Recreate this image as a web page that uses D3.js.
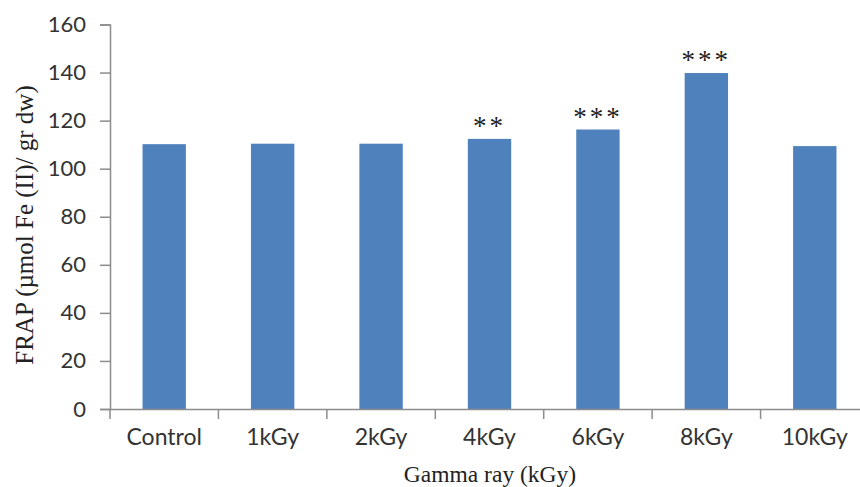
<!DOCTYPE html>
<html>
<head>
<meta charset="utf-8">
<script src="https://cdn.jsdelivr.net/npm/d3@7"></script>
<style>
  html, body { margin: 0; padding: 0; background: #fff; }
  svg { display: block; }
</style>
</head>
<body>
<svg id="chart" width="860" height="487"></svg>
<script>
// FRAP antioxidant capacity by gamma irradiation dose
const categories = ["Control", "1kGy", "2kGy", "4kGy", "6kGy", "8kGy", "10kGy"];
const frapValues = [110.2, 110.4, 110.4, 112.4, 116.3, 139.8, 109.4];
const significance = ["", "", "", "**", "***", "***", ""];
const yTicks = [0, 20, 40, 60, 80, 100, 120, 140, 160];

const svg = d3.select("#chart");
const W = 860;
const x0 = 110, x1 = W + 9;
const yBottom = 409, yTop = 24.5;

const x = d3.scaleBand().domain(categories).range([x0, x1]).paddingInner(0.6).paddingOuter(0.3);
const xb = d3.scaleBand().domain(categories).range([x0, x1]);
const y = d3.scaleLinear().domain([0, 160]).range([yBottom, yTop]);

const axisColor = "#8c8c8c";
const tickFont = "Lato, 'Open Sans', sans-serif";
const serif = "'Liberation Serif', 'DejaVu Serif', serif";

// bars
svg.append("g").selectAll("rect").data(categories).join("rect")
  .attr("x", d => x(d))
  .attr("width", x.bandwidth())
  .attr("y", (d, i) => y(frapValues[i]))
  .attr("height", (d, i) => y(0) - y(frapValues[i]))
  .attr("fill", "#4f81bd");

// significance marks
svg.append("g").selectAll("text").data(categories).join("text")
  .attr("x", d => x(d) + x.bandwidth() / 2)
  .attr("y", (d, i) => y(frapValues[i]) - 4)
  .attr("text-anchor", "middle")
  .attr("font-family", serif)
  .attr("font-size", 27)
  .attr("letter-spacing", 3)
  .attr("fill", "#222")
  .text((d, i) => significance[i]);

// y axis
const yAxis = svg.append("g").attr("transform", `translate(${x0},0)`)
  .call(d3.axisLeft(y).tickValues(yTicks).tickSize(10).tickPadding(14));
yAxis.select(".domain").attr("stroke", axisColor).attr("stroke-width", 1.5);
yAxis.selectAll(".tick line").attr("stroke", axisColor).attr("stroke-width", 1.5);
yAxis.selectAll(".tick text").attr("font-family", tickFont).attr("font-size", 22).attr("fill", "#333");

// x axis
const xAxis = svg.append("g").attr("transform", `translate(0,${yBottom})`)
  .call(d3.axisBottom(xb).tickSize(0).tickPadding(20));
xAxis.select(".domain").attr("stroke", axisColor).attr("stroke-width", 1.5);
xAxis.selectAll(".tick text").attr("font-family", tickFont).attr("font-size", 23).attr("fill", "#333");
// boundary ticks between categories
xAxis.append("g").selectAll("line").data(categories).join("line")
  .attr("x1", d => xb(d)).attr("x2", d => xb(d))
  .attr("y1", 0).attr("y2", 10)
  .attr("stroke", axisColor).attr("stroke-width", 1.5);

// axis titles
svg.append("text")
  .attr("x", 490).attr("y", 482)
  .attr("text-anchor", "middle")
  .attr("font-family", serif).attr("font-size", 23.5).attr("fill", "#222")
  .text("Gamma ray (kGy)");

svg.append("text")
  .attr("transform", "translate(33,225) rotate(-90)")
  .attr("text-anchor", "middle")
  .attr("font-family", serif).attr("font-size", 25).attr("fill", "#222")
  .text("FRAP (µmol Fe (II)/ gr dw)");
</script>
</body>
</html>
